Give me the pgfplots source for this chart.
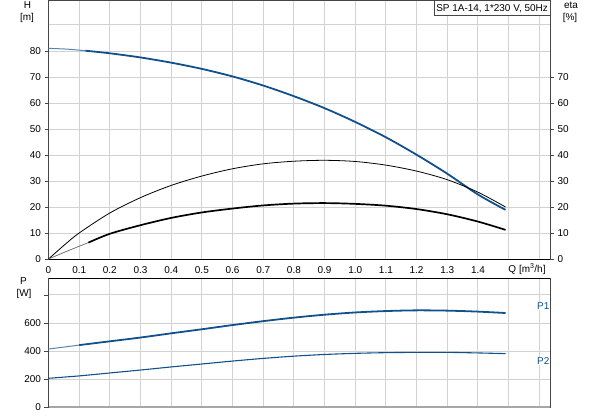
\documentclass[border=0pt]{standalone}
\usepackage{fontspec}
\setmainfont{Liberation Sans}
\usepackage{pgfplots}
\pgfplotsset{compat=1.18}

\definecolor{gfblue}{RGB}{16,80,140}
\definecolor{gridgray}{RGB}{210,210,210}
\definecolor{framegray}{RGB}{70,70,70}

\pgfplotsset{
  pumpaxis/.style={
    scale only axis,
    width=501.5bp,
    xmin=0, xmax=1.635,
    xtick={0,0.1,0.2,0.3,0.4,0.5,0.6,0.7,0.8,0.9,1.0,1.1,1.2,1.3,1.4,1.5,1.6},
    grid=major,
    major grid style={gridgray, line width=0.9pt},
    tick align=outside,
    major tick length=4bp,
    xtick pos=bottom,
    ytick pos=left,
    x tick style={draw=none},
    tick style={framegray, line width=0.6pt},
    axis line style={framegray, line width=0.8pt},
    /pgf/number format/assume math mode=true,
    ticklabel style={font=\fontsize{10}{12}\selectfont},
  },
}

\begin{document}
\begin{tikzpicture}[x=1bp, y=1bp, font=\fontsize{10}{12}\selectfont]

% head and efficiency
\begin{axis}[
    pumpaxis,
    at={(48.5bp,156bp)}, anchor=south west,
    height=258.5bp,
    ymin=0, ymax=99.4,
    ytick={0,10,20,30,40,50,60,70,80},
    extra y ticks={90},
    extra y tick labels={},
    extra y tick style={major tick length=0pt},
    xticklabels={0,0.1,0.2,0.3,0.4,0.5,0.6,0.7,0.8,0.9,1.0,1.1,1.2,1.3,1.4,{},{}},
    clip=false,
  ]
  % H, start of curve thin
  \addplot[gfblue!70, line width=1pt, smooth] coordinates {
    (0,81.0) (0.06,80.7) (0.12,80.1)
  };
  \addplot[gfblue, line width=1.8pt, smooth] coordinates {
    (0.12,80.1) (0.2,79.1) (0.3,77.5) (0.4,75.5) (0.5,73.1) (0.6,70.2)
    (0.7,66.7) (0.8,62.6) (0.9,58.0) (1.0,52.7) (1.1,46.8) (1.2,40.1)
    (1.3,32.8) (1.4,24.8) (1.49,18.9)
  };
  \draw[black, line width=0.8pt] (rel axis cs:0,0) -- (rel axis cs:1,0);
  \node[draw=framegray, fill=white, anchor=north east, inner sep=2bp,
        minimum height=15bp] at (rel axis cs:1,1) {SP 1A-14, 1*230 V, 50Hz};
  \node at (axis cs:1.56,0) [yshift=-10bp] {Q [m\textsuperscript{3}/h]};
\end{axis}

% eta on the right
\begin{axis}[
    pumpaxis,
    at={(48.5bp,156bp)}, anchor=south west,
    height=258.5bp,
    ymin=0, ymax=99.4,
    grid=none,
    axis x line=none,
    axis y line*=right,
    ytick pos=right,
    ytick={0,10,20,30,40,50,60,70},
  ]
  % pump efficiency
  \addplot[black, line width=0.8pt, smooth] coordinates {
    (0,0) (0.05,5.2) (0.1,10.0) (0.2,17.7) (0.3,23.6) (0.4,28.3) (0.5,31.9)
    (0.6,34.7) (0.7,36.6) (0.8,37.6) (0.9,37.95) (1.0,37.5) (1.1,36.1)
    (1.2,33.8) (1.3,30.5) (1.4,25.7) (1.49,20.0)
  };
  % total efficiency
  \addplot[black!60, line width=0.7pt, smooth] coordinates {
    (0,0) (0.05,2.5) (0.1,4.9) (0.13,6.3)
  };
  \addplot[black, line width=1.7pt, smooth] coordinates {
    (0.13,6.3) (0.2,9.7) (0.3,13.0) (0.4,15.8) (0.5,17.9) (0.6,19.4)
    (0.7,20.6) (0.8,21.3) (0.9,21.5) (1.0,21.2) (1.1,20.5) (1.2,19.2)
    (1.3,17.2) (1.4,14.4) (1.49,11.2)
  };
\end{axis}

% power
\begin{axis}[
    pumpaxis,
    at={(48.5bp,8bp)}, anchor=south west,
    height=129bp,
    ymin=0, ymax=921,
    ytick={0,200,400,600,800},
    yticklabels={0,200,400,600,{}},
    xticklabels={},
    clip=false,
  ]
  \addplot[gfblue!70, line width=1pt, smooth] coordinates {
    (0,414) (0.05,428) (0.1,442)
  };
  \addplot[gfblue, line width=1.8pt, smooth] coordinates {
    (0.1,442) (0.2,469) (0.3,496) (0.4,526) (0.5,555) (0.6,585) (0.7,613)
    (0.8,638) (0.9,659) (1.0,675) (1.1,685) (1.2,690) (1.3,688) (1.4,681)
    (1.49,671)
  };
  \addplot[gfblue, line width=1.1pt, smooth] coordinates {
    (0,205) (0.1,222) (0.2,243) (0.3,264) (0.4,286) (0.5,307) (0.6,328)
    (0.7,347) (0.8,363) (0.9,375) (1.0,383) (1.1,388) (1.2,390) (1.3,390)
    (1.4,386) (1.49,381)
  };
  \draw[black, line width=0.8pt] (rel axis cs:0,1) -- (rel axis cs:1,1);
  \draw[black!35, line width=1.6pt] (rel axis cs:0,0) -- (rel axis cs:1,0);
  \node[fill=white, text=gfblue, anchor=east, inner sep=0.5bp] at (axis cs:1.635,723) {P1};
  \node[fill=white, text=gfblue, anchor=east, inner sep=0.5bp] at (axis cs:1.635,331) {P2};
\end{axis}

% axis names
\node at (27.5,410) {H};
\node at (27,397.5) {[m]};
\node at (571,410) {eta};
\node at (570,397.5) {[\%]};
\node at (23.5,134) {P};
\node at (24,121) {[W]};

\pgfresetboundingbox
\useasboundingbox (0,0) rectangle (593,415);
\end{tikzpicture}
\end{document}
